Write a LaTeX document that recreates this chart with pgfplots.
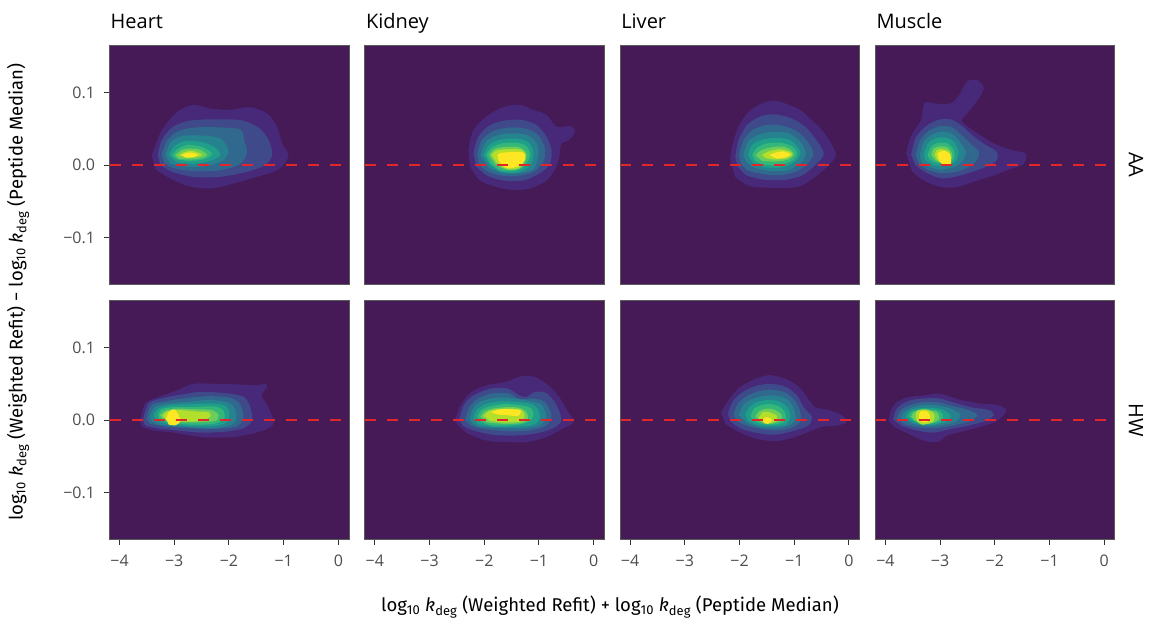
\documentclass[border=0pt]{standalone}
\usepackage{fontspec}
\setmainfont{Open Sans}
\newfontfamily\titlefont{Fira Sans}
\usepackage{pgfplots}
\pgfplotsset{compat=1.18}
\definecolor{bgc}{HTML}{451A56}
\definecolor{v1}{HTML}{482878}
\definecolor{v2}{HTML}{3E4A89}
\definecolor{v3}{HTML}{31688E}
\definecolor{v4}{HTML}{26828E}
\definecolor{v5}{HTML}{1F9E89}
\definecolor{v6}{HTML}{35B779}
\definecolor{v7}{HTML}{6DCD59}
\definecolor{v8}{HTML}{B4DE2C}
\definecolor{v9}{HTML}{FDE725}
\definecolor{bordc}{HTML}{5A5A5A}
\definecolor{tickc}{HTML}{333333}
\definecolor{tickl}{HTML}{4D4D4D}
\definecolor{refred}{HTML}{E3262A}
\newcommand{\lv}[2]{\addplot[fill=#1,draw=none,smooth,forget plot] coordinates {#2};}
\newcommand{\zeroline}{\addplot[refred,line width=1.8pt,dash pattern=on 11pt off 11pt,forget plot] coordinates {(-4.183,0) (0.194,0)};}
\pgfplotsset{panel/.style={width=239.5pt,height=239.3pt,scale only axis,
  xmin=-4.183,xmax=0.194,ymin=-0.164,ymax=0.165,
  axis background/.style={fill=bgc},
  axis line style={draw=bordc,line width=1pt},
  axis on top,
  tick align=outside, major tick length=5pt,
  tick style={draw=tickc,line width=1pt},
  tick pos=left,
  xtick={-4,-3,-2,-1,0}, ytick={-0.1,0,0.1},
  xticklabels={−4,−3,−2,−1,0}, yticklabels={−0.1,0.0,0.1},
  tick label style={font=\fontsize{16}{19}\selectfont,text=tickl},
  xticklabel style={yshift=-7pt},
  yticklabel style={xshift=-6pt},
  anchor=south west},
  notx/.style={xtick=\empty},
  noty/.style={ytick=\empty}}
\begin{document}
\begin{tikzpicture}
\useasboundingbox (0pt,0pt) rectangle (1154pt,-624pt);
% ---------------- Heart AA
\begin{axis}[panel,notx,at={(109.5pt,-284.5pt)}]
\lv{v1}{(-3.41,0.014) (-3.23,0.048) (-2.95,0.073) (-2.65,0.083) (-2.34,0.078) (-1.98,0.076) (-1.61,0.080) (-1.30,0.071) (-1.12,0.053) (-1.03,0.030) (-0.91,0.014) (-1.03,-0.002) (-1.18,-0.009) (-1.49,-0.016) (-1.91,-0.025) (-2.34,-0.032) (-2.77,-0.028) (-3.13,-0.016) (-3.35,-0.005)}
\lv{v2}{(-3.30,0.014) (-3.23,0.034) (-3.04,0.052) (-2.74,0.061) (-2.34,0.063) (-1.79,0.062) (-1.46,0.052) (-1.27,0.034) (-1.21,0.014) (-1.34,0.000) (-1.67,-0.009) (-2.16,-0.016) (-2.65,-0.016) (-3.04,-0.009) (-3.26,0.001)}
\lv{v3}{(-3.23,0.014) (-3.13,0.034) (-2.92,0.047) (-2.59,0.052) (-2.16,0.052) (-1.79,0.049) (-1.72,0.034) (-1.67,0.018) (-1.79,0.002) (-2.16,-0.007) (-2.65,-0.008) (-3.01,-0.004) (-3.18,0.003)}
\lv{v4}{(-3.16,0.014) (-3.07,0.031) (-2.86,0.040) (-2.52,0.041) (-2.16,0.037) (-2.01,0.021) (-2.10,0.007) (-2.40,-0.001) (-2.77,-0.002) (-3.07,0.002)}
\lv{v5}{(-3.10,0.014) (-3.00,0.026) (-2.80,0.033) (-2.49,0.032) (-2.25,0.024) (-2.16,0.014) (-2.34,0.006) (-2.65,0.002) (-2.95,0.004)}
\lv{v6}{(-3.04,0.014) (-2.92,0.023) (-2.74,0.028) (-2.49,0.025) (-2.31,0.016) (-2.46,0.008) (-2.74,0.006) (-2.95,0.008)}
\lv{v7}{(-2.98,0.014) (-2.86,0.021) (-2.71,0.023) (-2.52,0.021) (-2.40,0.014) (-2.55,0.009) (-2.77,0.008) (-2.92,0.009)}
\lv{v8}{(-2.92,0.014) (-2.81,0.018) (-2.69,0.020) (-2.55,0.017) (-2.49,0.014) (-2.61,0.011) (-2.78,0.010)}
\lv{v9}{(-2.86,0.014) (-2.77,0.017) (-2.65,0.017) (-2.57,0.014) (-2.66,0.011) (-2.80,0.011)}
\zeroline
\end{axis}
% ---------------- Kidney AA
\begin{axis}[panel,notx,noty,at={(364.8pt,-284.5pt)}]
\lv{v1}{(-2.29,0.021) (-2.20,0.048) (-1.96,0.067) (-1.65,0.080) (-1.35,0.083) (-1.10,0.076) (-0.86,0.069) (-0.68,0.053) (-0.43,0.054) (-0.34,0.046) (-0.46,0.034) (-0.59,0.030) (-0.62,0.016) (-0.68,-0.002) (-0.86,-0.021) (-1.16,-0.032) (-1.47,-0.034) (-1.77,-0.030) (-2.08,-0.021) (-2.26,-0.002)}
\lv{v2}{(-2.20,0.016) (-2.11,0.039) (-1.90,0.055) (-1.59,0.062) (-1.29,0.062) (-1.04,0.055) (-0.86,0.039) (-0.77,0.021) (-0.80,0.002) (-0.98,-0.011) (-1.29,-0.021) (-1.65,-0.021) (-1.96,-0.014) (-2.14,-0.002)}
\lv{v3}{(-2.13,0.014) (-2.05,0.034) (-1.84,0.047) (-1.53,0.052) (-1.23,0.050) (-1.01,0.041) (-0.89,0.023) (-0.92,0.005) (-1.10,-0.009) (-1.41,-0.015) (-1.71,-0.014) (-1.96,-0.008) (-2.09,0.002)}
\lv{v4}{(-2.07,0.014) (-1.97,0.032) (-1.77,0.041) (-1.47,0.044) (-1.20,0.041) (-1.04,0.030) (-1.01,0.014) (-1.10,-0.005) (-1.35,-0.011) (-1.68,-0.011) (-1.93,-0.003)}
\lv{v5}{(-2.01,0.014) (-1.91,0.028) (-1.71,0.035) (-1.44,0.037) (-1.20,0.032) (-1.10,0.018) (-1.16,0.000) (-1.38,-0.010) (-1.68,-0.009) (-1.90,0.000)}
\lv{v6}{(-1.96,0.014) (-1.87,0.024) (-1.68,0.030) (-1.41,0.031) (-1.23,0.026) (-1.16,0.014) (-1.26,-0.001) (-1.47,-0.008) (-1.71,-0.007) (-1.88,0.002)}
\lv{v7}{(-1.91,0.014) (-1.82,0.022) (-1.65,0.025) (-1.38,0.025) (-1.24,0.018) (-1.23,0.009) (-1.35,-0.005) (-1.59,-0.006) (-1.80,0.001)}
\lv{v8}{(-1.87,0.014) (-1.79,0.020) (-1.59,0.022) (-1.32,0.021) (-1.26,0.011) (-1.35,-0.003) (-1.59,-0.005) (-1.77,0.003)}
\lv{v9}{(-1.76,0.014) (-1.70,0.017) (-1.47,0.018) (-1.27,0.017) (-1.26,0.007) (-1.36,-0.001) (-1.59,-0.004) (-1.73,0.005)}
\zeroline
\end{axis}
% ---------------- Liver AA
\begin{axis}[panel,notx,noty,at={(620.1pt,-284.5pt)}]
\lv{v1}{(-2.17,0.007) (-2.14,0.025) (-2.02,0.053) (-1.84,0.073) (-1.59,0.085) (-1.35,0.089) (-1.10,0.083) (-0.89,0.076) (-0.68,0.062) (-0.49,0.048) (-0.34,0.032) (-0.24,0.014) (-0.37,0.000) (-0.62,-0.016) (-0.86,-0.028) (-1.10,-0.031) (-1.47,-0.031) (-1.84,-0.028) (-2.08,-0.016)}
\lv{v2}{(-2.08,0.011) (-2.02,0.034) (-1.87,0.055) (-1.62,0.067) (-1.35,0.070) (-1.04,0.064) (-0.80,0.053) (-0.62,0.037) (-0.46,0.016) (-0.62,0.000) (-0.86,-0.014) (-1.16,-0.020) (-1.53,-0.020) (-1.87,-0.014) (-2.03,-0.002)}
\lv{v3}{(-2.01,0.014) (-1.93,0.034) (-1.77,0.048) (-1.53,0.055) (-1.26,0.055) (-0.98,0.048) (-0.77,0.034) (-0.65,0.016) (-0.77,0.001) (-0.98,-0.009) (-1.29,-0.014) (-1.59,-0.012) (-1.85,-0.007) (-1.97,0.002)}
\lv{v4}{(-1.93,0.014) (-1.85,0.032) (-1.68,0.041) (-1.41,0.046) (-1.10,0.044) (-0.89,0.032) (-0.79,0.016) (-0.89,0.003) (-1.13,-0.007) (-1.44,-0.008) (-1.74,-0.003) (-1.88,0.005)}
\lv{v5}{(-1.85,0.014) (-1.77,0.028) (-1.59,0.035) (-1.32,0.038) (-1.04,0.033) (-0.89,0.018) (-0.98,0.005) (-1.23,-0.003) (-1.53,-0.003) (-1.76,0.003)}
\lv{v6}{(-1.77,0.014) (-1.68,0.024) (-1.50,0.030) (-1.26,0.031) (-1.04,0.026) (-0.95,0.016) (-1.04,0.006) (-1.29,0.000) (-1.56,0.001) (-1.71,0.006)}
\lv{v7}{(-1.71,0.014) (-1.59,0.021) (-1.38,0.025) (-1.16,0.025) (-1.01,0.016) (-1.10,0.008) (-1.35,0.005) (-1.59,0.006)}
\lv{v8}{(-1.59,0.014) (-1.47,0.019) (-1.26,0.022) (-1.07,0.018) (-1.04,0.014) (-1.16,0.009) (-1.38,0.008) (-1.53,0.010)}
\lv{v9}{(-1.46,0.014) (-1.35,0.017) (-1.20,0.019) (-1.07,0.015) (-1.15,0.011) (-1.32,0.009)}
\zeroline
\end{axis}
% ---------------- Muscle AA
\begin{axis}[panel,notx,noty,at={(875.4pt,-284.5pt)}]
\lv{v1}{(-3.62,0.016) (-3.54,0.039) (-3.35,0.062) (-3.32,0.076) (-3.27,0.087) (-3.12,0.085) (-2.81,0.085) (-2.66,0.096) (-2.51,0.115) (-2.32,0.117) (-2.20,0.106) (-2.32,0.089) (-2.51,0.071) (-2.60,0.060) (-2.32,0.044) (-2.02,0.030) (-1.71,0.021) (-1.44,0.016) (-1.47,0.002) (-1.71,-0.005) (-2.02,-0.014) (-2.32,-0.021) (-2.69,-0.030) (-2.99,-0.030) (-3.30,-0.021) (-3.51,-0.009)}
\lv{v2}{(-3.53,0.014) (-3.45,0.037) (-3.27,0.053) (-3.05,0.062) (-2.81,0.063) (-2.60,0.054) (-2.38,0.039) (-2.17,0.028) (-1.96,0.018) (-1.99,0.005) (-2.26,-0.005) (-2.63,-0.014) (-2.96,-0.018) (-3.24,-0.011) (-3.45,0.000)}
\lv{v3}{(-3.45,0.014) (-3.37,0.034) (-3.21,0.047) (-2.99,0.054) (-2.78,0.052) (-2.60,0.041) (-2.45,0.030) (-2.29,0.018) (-2.35,0.005) (-2.60,-0.007) (-2.93,-0.011) (-3.21,-0.007) (-3.39,0.002)}
\lv{v4}{(-3.37,0.014) (-3.30,0.032) (-3.15,0.042) (-2.96,0.046) (-2.78,0.043) (-2.64,0.032) (-2.53,0.018) (-2.60,0.005) (-2.78,-0.003) (-3.02,-0.006) (-3.24,-0.001) (-3.35,0.005)}
\lv{v5}{(-3.30,0.014) (-3.23,0.029) (-3.09,0.037) (-2.90,0.038) (-2.75,0.032) (-2.66,0.018) (-2.72,0.005) (-2.90,-0.001) (-3.12,0.000) (-3.27,0.007)}
\lv{v6}{(-3.23,0.014) (-3.16,0.026) (-3.02,0.031) (-2.87,0.030) (-2.75,0.021) (-2.75,0.008) (-2.90,0.002) (-3.09,0.004) (-3.20,0.009)}
\lv{v7}{(-3.16,0.014) (-3.12,0.023) (-2.99,0.026) (-2.86,0.024) (-2.78,0.015) (-2.81,0.006) (-2.95,0.003) (-3.09,0.007)}
\lv{v8}{(-3.10,0.014) (-3.06,0.021) (-2.96,0.022) (-2.84,0.019) (-2.80,0.011) (-2.84,0.004) (-2.96,0.003) (-3.06,0.008)}
\lv{v9}{(-3.05,0.016) (-2.96,0.020) (-2.84,0.017) (-2.80,0.009) (-2.81,0.001) (-2.93,0.000) (-3.02,0.006)}
\zeroline
\end{axis}
% ---------------- Heart HW
\begin{axis}[panel,at={(109.5pt,-539.5pt)}]
\lv{v1}{(-3.63,-0.002) (-3.53,0.023) (-3.29,0.032) (-2.95,0.041) (-2.65,0.050) (-2.22,0.050) (-1.79,0.049) (-1.49,0.048) (-1.34,0.050) (-1.30,0.046) (-1.40,0.034) (-1.30,0.021) (-1.18,-0.002) (-1.27,-0.011) (-1.55,-0.018) (-1.91,-0.023) (-2.34,-0.024) (-2.65,-0.022) (-3.01,-0.017) (-3.38,-0.014) (-3.59,-0.009)}
\lv{v2}{(-3.57,0.000) (-3.47,0.023) (-3.23,0.030) (-2.89,0.035) (-2.52,0.039) (-2.04,0.037) (-1.73,0.032) (-1.61,0.018) (-1.58,0.000) (-1.73,-0.011) (-2.10,-0.016) (-2.52,-0.017) (-2.95,-0.014) (-3.32,-0.011) (-3.53,-0.007)}
\lv{v3}{(-3.51,0.002) (-3.41,0.021) (-3.16,0.026) (-2.83,0.030) (-2.40,0.033) (-1.98,0.031) (-1.79,0.021) (-1.74,0.002) (-1.88,-0.009) (-2.28,-0.012) (-2.71,-0.011) (-3.13,-0.009) (-3.44,-0.005)}
\lv{v4}{(-3.45,0.005) (-3.35,0.018) (-3.10,0.023) (-2.77,0.025) (-2.34,0.028) (-2.01,0.024) (-1.88,0.014) (-1.88,-0.002) (-2.07,-0.009) (-2.46,-0.011) (-2.89,-0.009) (-3.26,-0.006) (-3.41,-0.001)}
\lv{v5}{(-3.38,0.006) (-3.29,0.016) (-3.04,0.021) (-2.71,0.022) (-2.31,0.023) (-2.07,0.020) (-1.99,0.009) (-2.04,-0.003) (-2.28,-0.008) (-2.71,-0.008) (-3.13,-0.005) (-3.33,0.000)}
\lv{v6}{(-3.30,0.007) (-3.23,0.015) (-3.01,0.018) (-2.65,0.018) (-2.28,0.019) (-2.11,0.014) (-2.09,0.002) (-2.28,-0.005) (-2.71,-0.006) (-3.10,-0.003) (-3.27,0.001)}
\lv{v7}{(-3.26,0.007) (-3.16,0.013) (-2.95,0.016) (-2.59,0.015) (-2.31,0.014) (-2.19,0.007) (-2.25,-0.001) (-2.59,-0.003) (-3.01,-0.002) (-3.21,0.001)}
\lv{v8}{(-3.21,0.006) (-3.13,0.012) (-2.92,0.014) (-2.59,0.012) (-2.37,0.011) (-2.34,0.005) (-2.52,-0.001) (-2.89,-0.002) (-3.13,0.000)}
\lv{v9}{(-3.15,0.002) (-3.10,0.011) (-3.00,0.015) (-2.92,0.007) (-2.89,-0.002) (-2.98,-0.007) (-3.10,-0.006)}
\zeroline
\end{axis}
% ---------------- Kidney HW
\begin{axis}[panel,noty,at={(364.8pt,-539.5pt)}]
\lv{v1}{(-2.54,-0.002) (-2.45,0.018) (-2.26,0.037) (-1.96,0.048) (-1.59,0.053) (-1.35,0.060) (-1.10,0.060) (-0.86,0.050) (-0.65,0.034) (-0.52,0.018) (-0.37,-0.002) (-0.55,-0.011) (-0.86,-0.023) (-1.23,-0.030) (-1.59,-0.030) (-1.96,-0.028) (-2.32,-0.018)}
\lv{v2}{(-2.46,0.000) (-2.37,0.021) (-2.20,0.034) (-1.90,0.043) (-1.59,0.044) (-1.35,0.034) (-1.23,0.032) (-1.07,0.039) (-0.86,0.037) (-0.68,0.021) (-0.59,0.000) (-0.74,-0.011) (-1.04,-0.018) (-1.41,-0.021) (-1.84,-0.020) (-2.20,-0.014) (-2.38,-0.008)}
\lv{v3}{(-2.35,0.001) (-2.27,0.018) (-2.11,0.030) (-1.84,0.037) (-1.56,0.037) (-1.35,0.029) (-1.10,0.030) (-0.89,0.025) (-0.77,0.007) (-0.86,-0.007) (-1.16,-0.014) (-1.59,-0.015) (-2.02,-0.012) (-2.26,-0.007)}
\lv{v4}{(-2.27,0.002) (-2.20,0.017) (-2.05,0.026) (-1.77,0.031) (-1.47,0.030) (-1.16,0.026) (-0.95,0.021) (-0.87,0.005) (-0.98,-0.007) (-1.29,-0.011) (-1.71,-0.011) (-2.07,-0.009) (-2.21,-0.005)}
\lv{v5}{(-2.20,0.003) (-2.13,0.015) (-1.97,0.022) (-1.71,0.026) (-1.41,0.025) (-1.13,0.022) (-1.01,0.014) (-0.99,0.001) (-1.13,-0.007) (-1.47,-0.009) (-1.87,-0.009) (-2.13,-0.005)}
\lv{v6}{(-2.13,0.005) (-2.05,0.014) (-1.90,0.019) (-1.65,0.022) (-1.38,0.021) (-1.16,0.017) (-1.10,0.007) (-1.20,-0.003) (-1.50,-0.007) (-1.87,-0.007) (-2.07,-0.002)}
\lv{v7}{(-2.07,0.005) (-1.99,0.012) (-1.84,0.016) (-1.59,0.018) (-1.35,0.017) (-1.23,0.011) (-1.20,0.002) (-1.32,-0.004) (-1.65,-0.005) (-1.96,-0.003)}
\lv{v8}{(-2.01,0.006) (-1.93,0.012) (-1.77,0.015) (-1.53,0.016) (-1.32,0.014) (-1.26,0.005) (-1.35,-0.002) (-1.65,-0.003) (-1.90,-0.001)}
\lv{v9}{(-1.87,0.011) (-1.71,0.015) (-1.35,0.014) (-1.38,0.006) (-1.59,0.007) (-1.77,0.008)}
\zeroline
\end{axis}
% ---------------- Liver HW
\begin{axis}[panel,noty,at={(620.1pt,-539.5pt)}]
\lv{v1}{(-2.34,0.011) (-2.20,0.028) (-2.02,0.044) (-1.77,0.055) (-1.47,0.062) (-1.16,0.057) (-0.92,0.046) (-0.77,0.032) (-0.62,0.018) (-0.37,0.014) (-0.13,0.007) (-0.04,-0.002) (-0.19,-0.007) (-0.49,-0.009) (-0.74,-0.016) (-0.98,-0.023) (-1.35,-0.029) (-1.71,-0.025) (-2.02,-0.016) (-2.26,-0.005)}
\lv{v2}{(-2.21,0.009) (-2.13,0.025) (-1.96,0.038) (-1.71,0.047) (-1.44,0.050) (-1.16,0.046) (-0.95,0.034) (-0.83,0.018) (-0.68,0.005) (-0.74,-0.007) (-0.98,-0.014) (-1.35,-0.020) (-1.71,-0.017) (-1.99,-0.011) (-2.17,-0.001)}
\lv{v3}{(-2.11,0.008) (-2.03,0.023) (-1.87,0.033) (-1.65,0.040) (-1.41,0.042) (-1.16,0.038) (-0.98,0.026) (-0.89,0.011) (-0.89,-0.002) (-1.07,-0.011) (-1.38,-0.014) (-1.68,-0.011) (-1.93,-0.006) (-2.07,0.000)}
\lv{v4}{(-2.01,0.007) (-1.93,0.021) (-1.77,0.029) (-1.56,0.033) (-1.35,0.034) (-1.13,0.029) (-1.01,0.016) (-0.98,0.000) (-1.13,-0.008) (-1.41,-0.011) (-1.68,-0.009) (-1.88,-0.003)}
\lv{v5}{(-1.90,0.007) (-1.82,0.018) (-1.68,0.025) (-1.48,0.028) (-1.29,0.026) (-1.13,0.018) (-1.07,0.005) (-1.16,-0.006) (-1.41,-0.008) (-1.65,-0.007) (-1.84,-0.001)}
\lv{v6}{(-1.80,0.006) (-1.73,0.016) (-1.59,0.021) (-1.42,0.022) (-1.26,0.018) (-1.16,0.009) (-1.18,-0.002) (-1.38,-0.006) (-1.60,-0.005) (-1.76,0.000)}
\lv{v7}{(-1.71,0.005) (-1.65,0.012) (-1.50,0.016) (-1.35,0.014) (-1.23,0.007) (-1.26,-0.001) (-1.44,-0.005) (-1.62,-0.002)}
\lv{v8}{(-1.65,0.003) (-1.58,0.011) (-1.46,0.011) (-1.32,0.006) (-1.35,-0.002) (-1.50,-0.004) (-1.61,-0.001)}
\lv{v9}{(-1.58,0.000) (-1.53,0.004) (-1.44,0.003) (-1.41,-0.001) (-1.48,-0.005) (-1.55,-0.004)}
\zeroline
\end{axis}
% ---------------- Muscle HW
\begin{axis}[panel,noty,at={(875.4pt,-539.5pt)}]
\lv{v1}{(-3.94,0.000) (-3.90,0.014) (-3.79,0.025) (-3.57,0.032) (-3.30,0.034) (-3.05,0.037) (-2.87,0.034) (-2.63,0.028) (-2.26,0.023) (-1.96,0.021) (-1.79,0.014) (-1.87,0.005) (-1.99,-0.002) (-2.26,-0.009) (-2.63,-0.016) (-2.87,-0.021) (-3.05,-0.030) (-3.30,-0.028) (-3.60,-0.018) (-3.85,-0.009)}
\lv{v2}{(-3.86,0.001) (-3.81,0.014) (-3.70,0.022) (-3.51,0.028) (-3.27,0.030) (-3.02,0.030) (-2.78,0.025) (-2.45,0.018) (-2.11,0.014) (-2.02,0.007) (-2.17,-0.001) (-2.51,-0.008) (-2.81,-0.012) (-3.12,-0.017) (-3.43,-0.014) (-3.70,-0.008)}
\lv{v3}{(-3.79,0.002) (-3.74,0.012) (-3.64,0.018) (-3.45,0.023) (-3.24,0.025) (-3.00,0.024) (-2.75,0.019) (-2.48,0.014) (-2.32,0.007) (-2.45,-0.001) (-2.75,-0.007) (-3.09,-0.011) (-3.40,-0.010) (-3.64,-0.006)}
\lv{v4}{(-3.71,0.003) (-3.66,0.011) (-3.55,0.016) (-3.39,0.020) (-3.17,0.021) (-2.96,0.019) (-2.78,0.015) (-2.63,0.007) (-2.72,-0.002) (-3.00,-0.007) (-3.30,-0.008) (-3.55,-0.004)}
\lv{v5}{(-3.63,0.004) (-3.59,0.011) (-3.48,0.015) (-3.32,0.017) (-3.11,0.017) (-2.93,0.014) (-2.81,0.006) (-2.90,-0.002) (-3.11,-0.006) (-3.36,-0.006) (-3.54,-0.001)}
\lv{v6}{(-3.57,0.005) (-3.53,0.011) (-3.42,0.014) (-3.26,0.015) (-3.08,0.014) (-2.96,0.009) (-2.96,0.000) (-3.11,-0.004) (-3.33,-0.005) (-3.49,0.000)}
\lv{v7}{(-3.53,0.005) (-3.48,0.011) (-3.36,0.013) (-3.20,0.013) (-3.06,0.011) (-3.02,0.002) (-3.12,-0.003) (-3.33,-0.004) (-3.47,0.000)}
\lv{v8}{(-3.45,0.005) (-3.42,0.013) (-3.26,0.015) (-3.14,0.011) (-3.10,0.005) (-3.14,-0.003) (-3.33,-0.006) (-3.43,-0.001)}
\lv{v9}{(-3.39,0.006) (-3.36,0.012) (-3.24,0.012) (-3.19,0.007) (-3.20,-0.001) (-3.31,-0.003) (-3.38,0.000)}
\zeroline
\end{axis}
% ---------------- titles and strips
\node[anchor=base west,inner sep=0pt,font=\fontsize{20}{24}\selectfont] at (110.5pt,-28.3pt) {Heart};
\node[anchor=base west,inner sep=0pt,font=\fontsize{20}{24}\selectfont] at (365.8pt,-28.3pt) {Kidney};
\node[anchor=base west,inner sep=0pt,font=\fontsize{20}{24}\selectfont] at (621.1pt,-28.3pt) {Liver};
\node[anchor=base west,inner sep=0pt,font=\fontsize{20}{24}\selectfont] at (876.4pt,-28.3pt) {Muscle};
\node[font=\titlefont\fontsize{18.5}{22}\selectfont] at (610pt,-607pt) {log\textsubscript{10} \textit{k}\textsubscript{deg} (Weighted Refit) + log\textsubscript{10} \textit{k}\textsubscript{deg} (Peptide Median)};
\node[font=\titlefont\fontsize{18.5}{22}\selectfont,rotate=90] at (18pt,-292pt) {log\textsubscript{10} \textit{k}\textsubscript{deg} (Weighted Refit) − log\textsubscript{10} \textit{k}\textsubscript{deg} (Peptide Median)};
\node[font=\fontsize{20}{24}\selectfont,rotate=-90] at (1136pt,-164.7pt) {AA};
\node[font=\fontsize{20}{24}\selectfont,rotate=-90] at (1136pt,-420pt) {HW};
\end{tikzpicture}
\end{document}
